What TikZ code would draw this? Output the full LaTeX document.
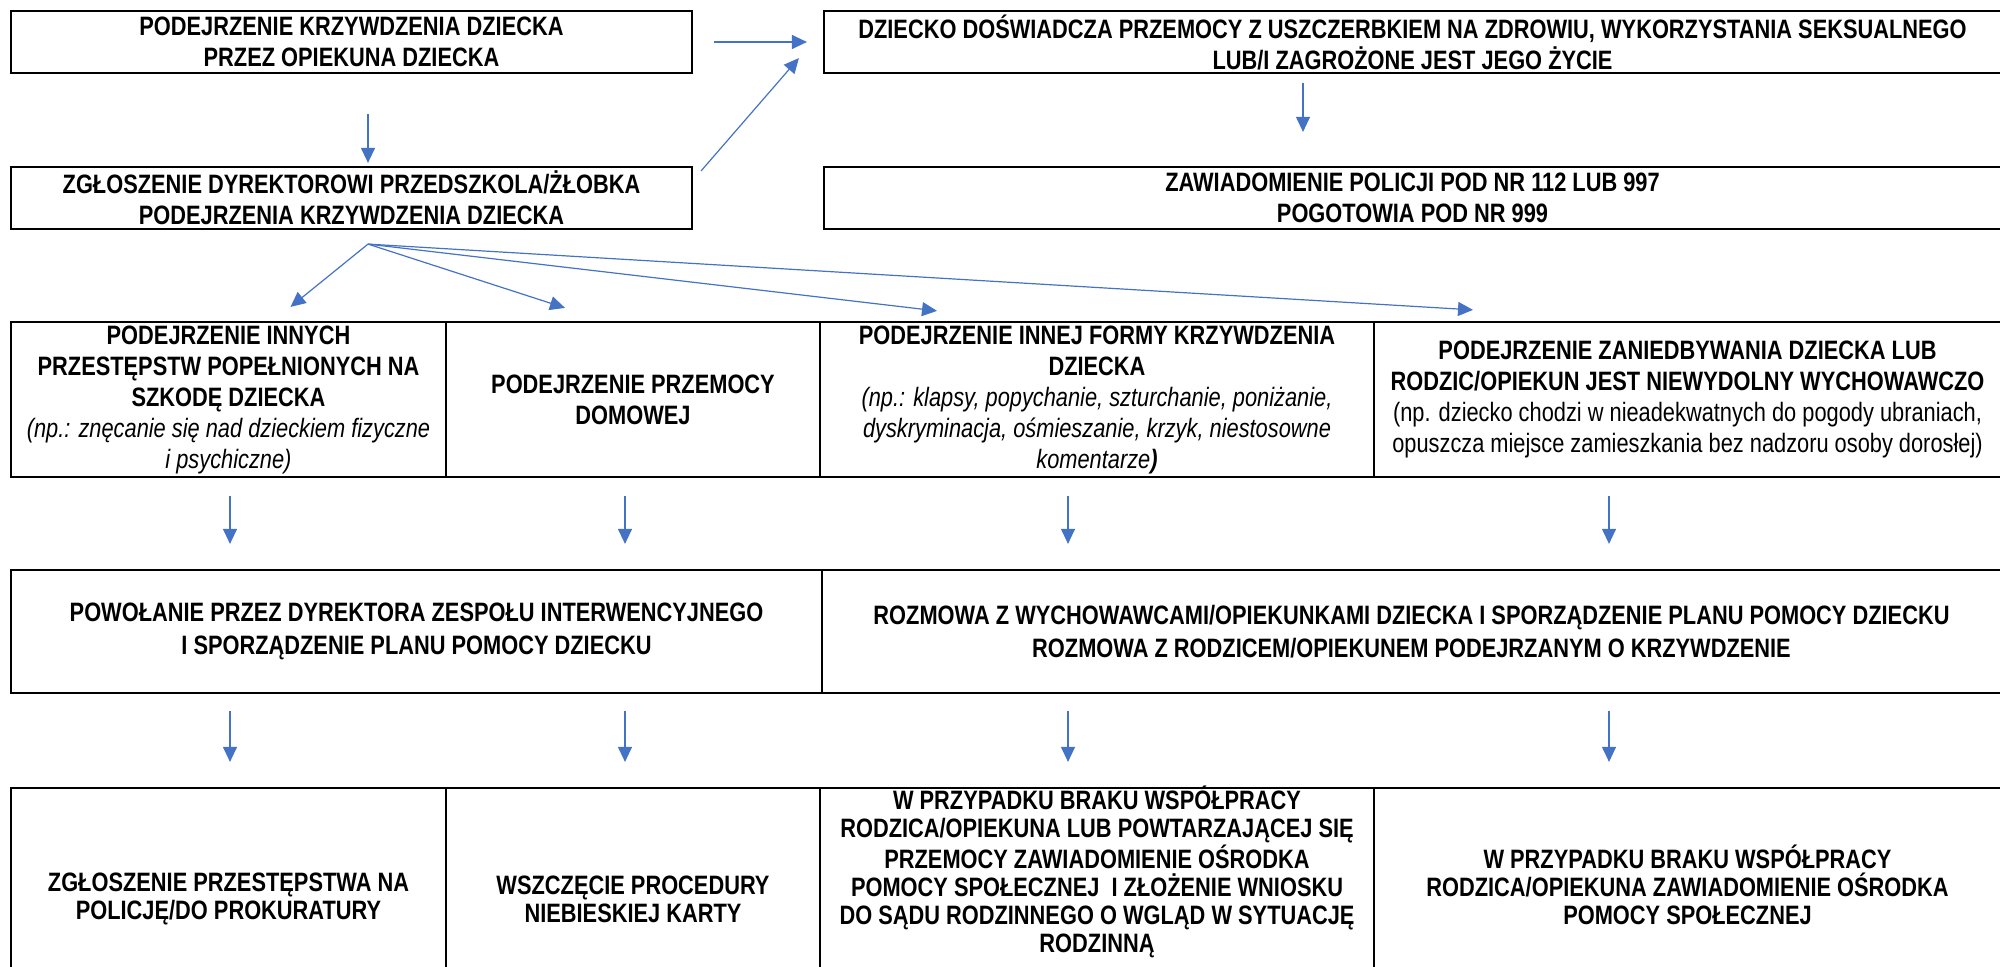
\documentclass[tikz,border=0pt]{standalone}
\usepackage{fontspec}
\setmainfont{Liberation Sans}[FakeStretch=0.82]
\usetikzlibrary{arrows.meta,calc}
\definecolor{arrblue}{HTML}{4472C4}
\newcommand{\npit}[1]{{\mdseries\itshape #1}}
\newcommand{\nprm}[1]{{\mdseries #1}}
\begin{document}
\begin{tikzpicture}[x=0.5pt,y=-0.5pt,
  cell/.style={draw=black,line width=1.1pt,inner sep=0pt,align=center,
    font=\fontsize{13.3pt}{15.5pt}\selectfont\bfseries},
  cellb/.style={cell,font=\fontsize{13.3pt}{14pt}\selectfont\bfseries},
  txt/.style={inner sep=0pt,align=center,font=\fontsize{13.3pt}{14pt}\selectfont\bfseries},
  arr/.style={draw=arrblue,line width=0.6pt,-{Triangle[length=7.5pt,width=7pt]}}
]
\useasboundingbox (0,0) rectangle (2000,967);
% row 1 and 2
\node[cell,minimum width=340.5pt,minimum height=31pt] (b1) at (351.5,42)
  {PODEJRZENIE KRZYWDZENIA DZIECKA\\PRZEZ OPIEKUNA DZIECKA};
\node[cell,minimum width=588.5pt,minimum height=31pt] (b2) at (1412.5,42)
  {DZIECKO DOŚWIADCZA PRZEMOCY Z USZCZERBKIEM NA ZDROWIU, WYKORZYSTANIA SEKSUALNEGO\\LUB/I ZAGROŻONE JEST JEGO ŻYCIE};
\node[cell,minimum width=340.5pt,minimum height=31pt] (b3) at (351.5,198)
  {ZGŁOSZENIE DYREKTOROWI PRZEDSZKOLA/ŻŁOBKA\\PODEJRZENIA KRZYWDZENIA DZIECKA};
\node[cell,minimum width=588.5pt,minimum height=31pt] (b4) at (1412.5,198)
  {ZAWIADOMIENIE POLICJI POD NR 112 LUB 997\\POGOTOWIA POD NR 999};
% row 3
\node[cell,minimum width=217.5pt,minimum height=77.5pt] (r3c1) at (228.5,399.5)
  {PODEJRZENIE INNYCH\\PRZESTĘPSTW POPEŁNIONYCH NA\\SZKODĘ DZIECKA\\\npit{(np.: znęcanie się nad dzieckiem fizyczne}\\\npit{i psychiczne)}};
\node[cell,minimum width=187pt,minimum height=77.5pt] (r3c2) at (633,399.5)
  {PODEJRZENIE PRZEMOCY\\DOMOWEJ};
\node[cell,minimum width=277pt,minimum height=77.5pt] (r3c3) at (1097,399.5)
  {PODEJRZENIE INNEJ FORMY KRZYWDZENIA\\DZIECKA\\\npit{(np.: klapsy, popychanie, szturchanie, poniżanie,}\\\npit{dyskryminacja, ośmieszanie, krzyk, niestosowne}\\\npit{komentarze}\textit{)}};
\node[cell,minimum width=313.5pt,minimum height=77.5pt] (r3c4) at (1687.5,399.5)
  {PODEJRZENIE ZANIEDBYWANIA DZIECKA LUB\\RODZIC/OPIEKUN JEST NIEWYDOLNY WYCHOWAWCZO\\\nprm{(np. dziecko chodzi w nieadekwatnych do pogody ubraniach,}\\\nprm{opuszcza miejsce zamieszkania bez nadzoru osoby dorosłej)}};
% row 4
\node[cell,minimum width=405.5pt,minimum height=61.5pt,font=\fontsize{13.3pt}{16.5pt}\selectfont\bfseries] (r4a) at (416.5,631.5)
  {POWOŁANIE PRZEZ DYREKTORA ZESPOŁU INTERWENCYJNEGO\\I SPORZĄDZENIE PLANU POMOCY DZIECKU};
\node[cell,minimum width=589.5pt,minimum height=61.5pt,font=\fontsize{13.3pt}{16.5pt}\selectfont\bfseries] (r4b) at (1411.5,631.5)
  {ROZMOWA Z WYCHOWAWCAMI/OPIEKUNKAMI DZIECKA I SPORZĄDZENIE PLANU POMOCY DZIECKU\\ROZMOWA Z RODZICEM/OPIEKUNEM PODEJRZANYM O KRZYWDZENIE};
% row 5
\node[cellb,minimum width=217.5pt,minimum height=111pt] (r5c1) at (228.5,899)
  {ZGŁOSZENIE PRZESTĘPSTWA NA\\POLICJĘ/DO PROKURATURY};
\node[cellb,minimum width=187pt,minimum height=111pt] (r5c2) at (633,899)
  {WSZCZĘCIE PROCEDURY\\NIEBIESKIEJ KARTY};
\node[cellb,minimum width=277pt,minimum height=111pt] (r5c3) at (1097,899) {};
\node[txt] (t5c3) at ([yshift=13.5pt]r5c3.center)
  {W PRZYPADKU BRAKU WSPÓŁPRACY\\RODZICA/OPIEKUNA LUB POWTARZAJĄCEJ SIĘ\\PRZEMOCY ZAWIADOMIENIE OŚRODKA\\POMOCY SPOŁECZNEJ\ \ I ZŁOŻENIE WNIOSKU\\DO SĄDU RODZINNEGO O WGLĄD W SYTUACJĘ\\RODZINNĄ};
\node[cellb,minimum width=313.5pt,minimum height=111pt] (r5c4) at (1687.5,899) {};
\node[txt] (t5c4) at ([yshift=7pt]r5c4.center)
  {W PRZYPADKU BRAKU WSPÓŁPRACY\\RODZICA/OPIEKUNA ZAWIADOMIENIE OŚRODKA\\POMOCY SPOŁECZNEJ};
% arrows top
\draw[arr,shorten <=10.5pt,shorten >=8pt] (b1.east) -- (b2.west);
\draw[arr,shorten <=20pt,shorten >=1.5pt] ([xshift=8.25pt]b1.south) -- ([xshift=8.25pt]b3.north);
\draw[arr] ([xshift=4pt,yshift=-2.5pt]b3.north east) -- ([xshift=-12pt,yshift=8pt]b2.south west);
\draw[arr,shorten <=4.5pt,shorten >=17pt] ([xshift=-54.75pt]b2.south) -- ([xshift=-54.75pt]b4.north);
% fan
\coordinate (fan) at ([xshift=8.25pt,yshift=-7pt]b3.south);
\draw[arr] (fan) -- ([xshift=31pt,yshift=7pt]r3c1.north);
\draw[arr] (fan) -- ([xshift=-34pt,yshift=6.5pt]r3c2.north);
\draw[arr] (fan) -- ([xshift=-80pt,yshift=5pt]r3c3.north);
\draw[arr] (fan) -- ([xshift=-107.25pt,yshift=5.5pt]r3c4.north);
% row3 -> row4
\draw[arr,shorten <=9pt,shorten >=12.5pt] ([xshift=0.75pt]r3c1.south) -- ([xshift=0.75pt]r3c1.south |- r4a.north);
\draw[arr,shorten <=9pt,shorten >=12.5pt] ([xshift=-4pt]r3c2.south) -- ([xshift=-4pt]r3c2.south |- r4a.north);
\draw[arr,shorten <=9pt,shorten >=12.5pt] ([xshift=-14.5pt]r3c3.south) -- ([xshift=-14.5pt]r3c3.south |- r4b.north);
\draw[arr,shorten <=9pt,shorten >=12.5pt] ([xshift=-39.25pt]r3c4.south) -- ([xshift=-39.25pt]r3c4.south |- r4b.north);
% row4 -> row5
\draw[arr,shorten <=8.5pt,shorten >=12.5pt] ([xshift=0.75pt]r5c1.north |- r4a.south) -- ([xshift=0.75pt]r5c1.north);
\draw[arr,shorten <=8.5pt,shorten >=12.5pt] ([xshift=-4pt]r5c2.north |- r4a.south) -- ([xshift=-4pt]r5c2.north);
\draw[arr,shorten <=8.5pt,shorten >=12.5pt] ([xshift=-14.5pt]r5c3.north |- r4b.south) -- ([xshift=-14.5pt]r5c3.north);
\draw[arr,shorten <=8.5pt,shorten >=12.5pt] ([xshift=-39.25pt]r5c4.north |- r4b.south) -- ([xshift=-39.25pt]r5c4.north);
\end{tikzpicture}
\end{document}
